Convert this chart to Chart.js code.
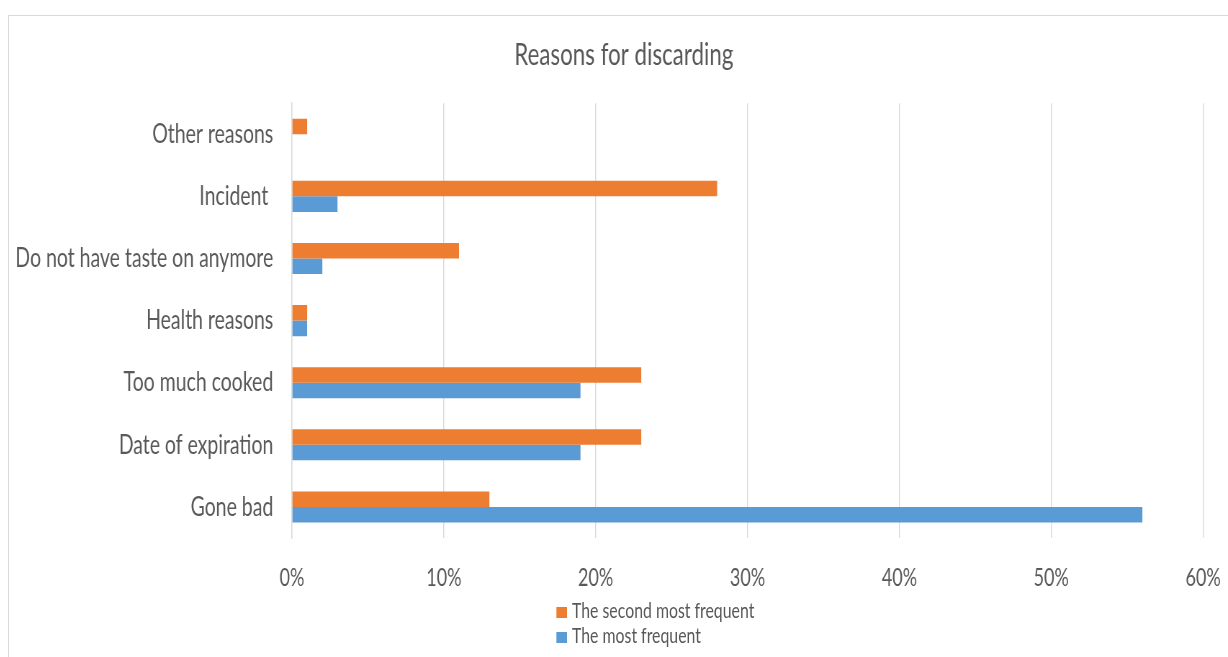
<!DOCTYPE html>
<html>
<head>
<meta charset="utf-8">
<title>Reasons for discarding</title>
<script src="https://cdn.jsdelivr.net/npm/chart.js@4"></script>
<style>
  html, body { margin: 0; padding: 0; background: #fff; overflow: hidden; }
  #frame {
    position: absolute; left: 8px; top: 15px;
    width: 1230px; height: 650px;
    border: 1px solid #d9d9d9;
    overflow: hidden;
  }
  /* the chart is laid out wide and squeezed horizontally, giving the narrow lettering */
  #stage {
    position: absolute; left: 0; top: 0;
    width: 1708px; height: 650px;
    transform: scaleX(0.72); transform-origin: 0 0;
  }
  #legend {
    position: absolute; left: 760px; top: 581px;
    font-family: Lato, sans-serif;
    font-size: 22px; color: #595959; line-height: 25px;
  }
  #legend div { white-space: nowrap; }
  #legend span.box {
    display: inline-block; width: 15px; height: 11px; margin-right: 7px;
    vertical-align: 0px;
  }
</style>
</head>
<body>
<div id="frame">
  <div id="stage">
    <canvas id="chart"></canvas>
    <div id="legend"></div>
  </div>
</div>
<script>
const categories = ['Other reasons', 'Incident ', 'Do not have taste on anymore', 'Health reasons', 'Too much cooked', 'Date of expiration', 'Gone bad']
const secondMostFrequent = [1, 28, 11, 1, 23, 23, 13]
const mostFrequent = [0, 3, 2, 1, 19, 19, 56]
const seriesNames = ['The second most frequent', 'The most frequent']
const seriesColors = ['#ED7D31', '#5B9BD5']

const fontFamily = 'Lato, sans-serif'
const textColor = '#595959'

const buildLegend = (chart) => {
    const box = document.getElementById('legend')
    box.innerHTML = ''
    chart.data.datasets.forEach(ds => {
        const row = document.createElement('div')
        const swatch = document.createElement('span')
        swatch.className = 'box'
        swatch.style.background = ds.backgroundColor
        row.appendChild(swatch)
        row.appendChild(document.createTextNode(ds.label))
        box.appendChild(row)
    })
}

// the right padding pulls the title off centre, give the same room on its left
const centreTitle = {
    id: 'centreTitle',
    afterLayout: chart => {
        if (chart.titleBlock) chart.titleBlock.left += 24
    }
}

const myChart = new Chart(document.getElementById('chart'), {
    type: 'bar',
    data: {
        labels: categories,
        datasets: [{
            label: seriesNames[0],
            data: secondMostFrequent,
            backgroundColor: seriesColors[0],
            categoryPercentage: 0.5,
            barPercentage: 1.0
        }, {
            label: seriesNames[1],
            data: mostFrequent,
            backgroundColor: seriesColors[1],
            categoryPercentage: 0.5,
            barPercentage: 1.0
        }]
    },
    options: {
        indexAxis: 'y',
        responsive: true,
        maintainAspectRatio: false,
        animation: false,
        layout: {
            padding: { top: 0, right: 24, bottom: 73, left: 0 }
        },
        plugins: {
            legend: { display: false },
            tooltip: { enabled: false },
            title: {
                display: true,
                text: 'Reasons for discarding',
                color: textColor,
                font: { family: fontFamily, size: 31, weight: 'normal' },
                padding: { top: 20, bottom: 30 }
            }
        },
        scales: {
            x: {
                min: 0,
                max: 60,
                afterFit: scale => { scale.height = 55 },
                ticks: {
                    stepSize: 10,
                    color: textColor,
                    padding: 25,
                    font: { family: fontFamily, size: 25 },
                    callback: v => v + '%'
                },
                grid: { color: '#d9d9d9', lineWidth: 1.4, drawTicks: false },
                border: { display: false }
            },
            y: {
                afterFit: scale => { scale.width = 393 },
                ticks: {
                    color: textColor,
                    padding: 26,
                    font: { family: fontFamily, size: 27 }
                },
                grid: { display: false, drawTicks: false },
                border: { color: '#d9d9d9', width: 1.4 }
            }
        }
    },
    plugins: [centreTitle]
})

buildLegend(myChart)
</script>
</body>
</html>
